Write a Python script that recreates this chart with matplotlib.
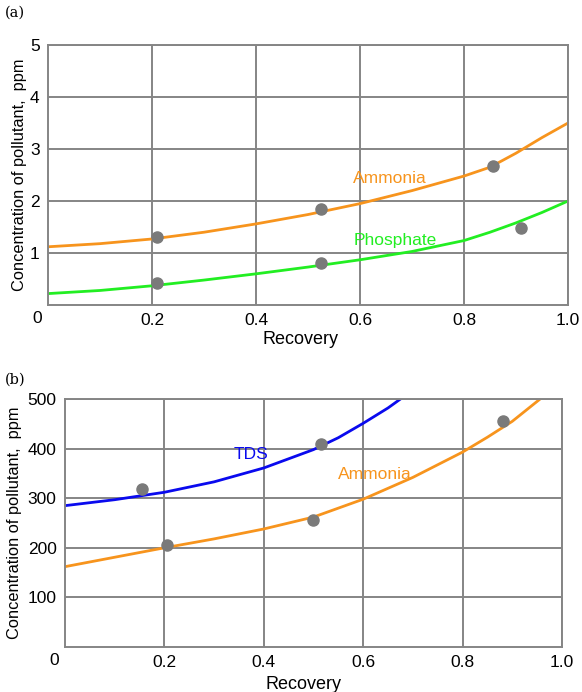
import matplotlib.pyplot as plt

plt.rcParams['font.family'] = ['Liberation Sans', 'DejaVu Sans']

### panel (a): curves
rec_a = [0.0, 0.1, 0.2, 0.3, 0.4, 0.5, 0.6, 0.7, 0.8, 0.85, 0.9, 0.95, 1.0]
ammonia_a = [1.12, 1.18, 1.27, 1.40, 1.56, 1.74, 1.95, 2.20, 2.48, 2.65, 2.92, 3.22, 3.5]
phosphate_a = [0.22, 0.28, 0.37, 0.48, 0.60, 0.73, 0.87, 1.03, 1.24, 1.40, 1.58, 1.78, 2.0]
pts_a_x = [0.21, 0.525, 0.855, 0.21, 0.525, 0.91]
pts_a_y = [1.30, 1.85, 2.68, 0.42, 0.80, 1.48]

### panel (b)
rec_tds = [0.0, 0.1, 0.2, 0.3, 0.4, 0.5, 0.55, 0.6, 0.65, 0.675]
tds_b = [285, 297, 312, 333, 361, 398, 422, 451, 482, 500]
rec_amm = [0.0, 0.1, 0.2, 0.3, 0.4, 0.5, 0.6, 0.7, 0.8, 0.85, 0.9, 0.956]
ammonia_b = [162, 181, 200, 218, 238, 262, 298, 342, 393, 423, 455, 500]
pts_b_x = [0.155, 0.205, 0.50, 0.515, 0.882]
pts_b_y = [318, 205, 257, 410, 456]

xticks = [0.2, 0.4, 0.6, 0.8, 1.0]
xticklabels = ['0.2', '0.4', '0.6', '0.8', '1.0']

orange = '#F7941D'
green = '#22EE22'
blue = '#0A0AEE'
grey = '#858585'
fs = 12.5

fig = plt.figure(figsize=(5.82, 6.92), dpi=100)
ax1 = fig.add_axes([0.0825, 0.5592, 0.8935, 0.3758])
ax2 = fig.add_axes([0.1117, 0.065, 0.8539, 0.3584])


def style(ax, yticks):
    ax.set_xlim(0, 1.0)
    ax.set_xticks(xticks)
    ax.set_xticklabels(xticklabels)
    ax.set_yticks(yticks)
    ax.set_yticklabels([str(v) for v in yticks])
    ax.tick_params(length=0, labelsize=fs, pad=6)
    ax.grid(True, color=grey, lw=1.4)
    for s in ax.spines.values():
        s.set_color(grey)
        s.set_linewidth(1.4)
    ax.set_axisbelow(True)
    # "0" at the corner
    ax.annotate('0', xy=(0, 0), xycoords='axes fraction', xytext=(-8, -4.5),
                textcoords='offset points', ha='center', va='top', fontsize=fs)


# (a)
ax1.plot(rec_a, ammonia_a, color=orange, lw=2)
ax1.plot(rec_a, phosphate_a, color=green, lw=2)
ax1.plot(pts_a_x, pts_a_y, 'o', color='#7a7a7a', ms=8, zorder=5)
ax1.set_ylim(0, 5)
style(ax1, [1, 2, 3, 4, 5])
ax1.text(0.587, 2.35, 'Ammonia', color=orange, fontsize=fs)
ax1.text(0.587, 1.16, 'Phosphate', color=green, fontsize=fs)
ax1.set_xlabel('Recovery', fontsize=13)
ax1.set_ylabel('Concentration of pollutant,  ppm', fontsize=11.8)
ax1.xaxis.set_label_coords(0.485, -0.10)
ax1.yaxis.set_label_coords(-0.04, 0.5)

# (b)
ax2.plot(rec_tds, tds_b, color=blue, lw=2)
ax2.plot(rec_amm, ammonia_b, color=orange, lw=2)
ax2.plot(pts_b_x, pts_b_y, 'o', color='#7a7a7a', ms=8, zorder=5)
ax2.set_ylim(0, 500)
style(ax2, [100, 200, 300, 400, 500])
ax2.text(0.34, 380, 'TDS', color=blue, fontsize=fs)
ax2.text(0.55, 338, 'Ammonia', color=orange, fontsize=fs)
ax2.set_xlabel('Recovery', fontsize=13)
ax2.set_ylabel('Concentration of pollutant,  ppm', fontsize=11.8)
ax2.xaxis.set_label_coords(0.48, -0.115)
ax2.yaxis.set_label_coords(-0.087, 0.5)

fig.text(0.009, 0.982, '(a)', fontsize=10.5, family='DejaVu Serif', va='center')
fig.text(0.009, 0.452, '(b)', fontsize=10.5, family='DejaVu Serif', va='center')

fig.savefig('out.png', dpi=100)
